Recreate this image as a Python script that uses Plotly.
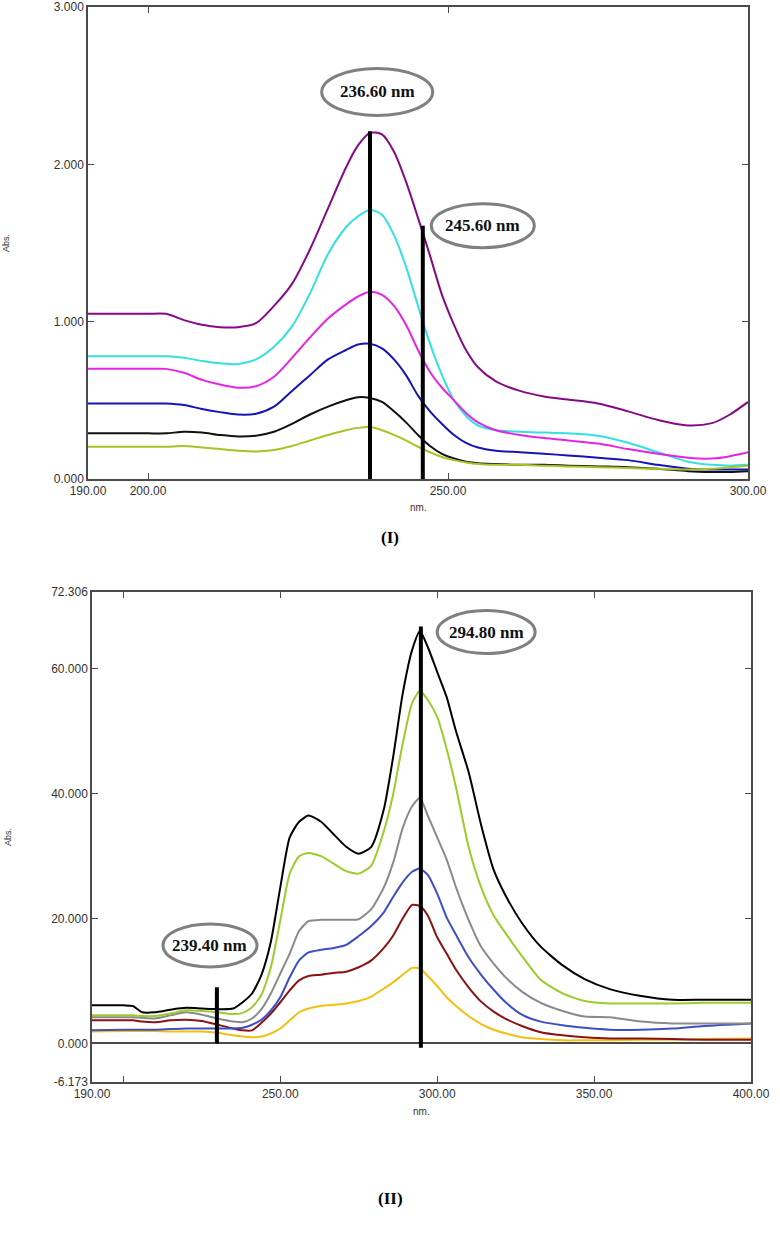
import plotly.graph_objects as go

# ---------------- Panel (I) data ----------------
wl_I = [190, 195, 200, 203, 206, 209, 212, 215, 218, 221, 224, 227, 230, 233, 235, 237,
        239, 241, 243, 245, 247, 249, 251, 253, 255, 258, 262, 266, 270, 275, 280, 285,
        290, 294, 297, 300]
purple_I = [1.05, 1.05, 1.05, 1.05, 1.01, 0.98, 0.965, 0.965, 0.99, 1.10, 1.24, 1.46, 1.72, 1.98, 2.12, 2.20,
            2.19, 2.08, 1.89, 1.66, 1.42, 1.17, 0.98, 0.82, 0.71, 0.62, 0.56, 0.525, 0.505, 0.48, 0.43, 0.375,
            0.34, 0.355, 0.41, 0.49]
cyan_I = [0.78, 0.78, 0.78, 0.78, 0.77, 0.75, 0.735, 0.73, 0.76, 0.84, 0.97, 1.18, 1.43, 1.60, 1.67, 1.71,
          1.68, 1.55, 1.35, 1.10, 0.86, 0.66, 0.50, 0.40, 0.34, 0.31, 0.30, 0.295, 0.29, 0.275, 0.23, 0.17,
          0.11, 0.09, 0.085, 0.09]
magenta_I = [0.70, 0.70, 0.70, 0.70, 0.675, 0.63, 0.60, 0.58, 0.59, 0.65, 0.77, 0.90, 1.02, 1.11, 1.16, 1.19,
             1.17, 1.10, 0.98, 0.82, 0.68, 0.58, 0.50, 0.42, 0.36, 0.31, 0.28, 0.26, 0.245, 0.225, 0.19, 0.16,
             0.135, 0.13, 0.145, 0.17]
blue_I = [0.48, 0.48, 0.48, 0.48, 0.47, 0.445, 0.425, 0.41, 0.415, 0.46, 0.56, 0.66, 0.76, 0.82, 0.855, 0.86,
          0.83, 0.76, 0.66, 0.53, 0.43, 0.35, 0.28, 0.23, 0.20, 0.18, 0.17, 0.16, 0.15, 0.135, 0.12, 0.09,
          0.065, 0.06, 0.06, 0.06]
black_I = [0.29, 0.29, 0.29, 0.29, 0.30, 0.295, 0.28, 0.27, 0.275, 0.30, 0.35, 0.41, 0.46, 0.50, 0.52, 0.515,
           0.49, 0.43, 0.36, 0.28, 0.21, 0.16, 0.13, 0.11, 0.10, 0.095, 0.09, 0.09, 0.085, 0.08, 0.075, 0.065,
           0.05, 0.045, 0.045, 0.05]
green_I = [0.205, 0.205, 0.205, 0.205, 0.21, 0.20, 0.19, 0.18, 0.175, 0.185, 0.21, 0.245, 0.28, 0.31, 0.325, 0.33,
           0.31, 0.28, 0.245, 0.205, 0.17, 0.14, 0.12, 0.105, 0.095, 0.09, 0.09, 0.085, 0.08, 0.075, 0.07, 0.065,
           0.06, 0.065, 0.075, 0.085]
series_I = [
    (purple_I, "#850a85"),
    (cyan_I, "#35e0e0"),
    (magenta_I, "#e524e5"),
    (blue_I, "#1414b8"),
    (black_I, "#111111"),
    (green_I, "#a6c424"),
]
peak_label_I = ["236.60 nm", "245.60 nm"]
peak_wl_I = [237.0, 245.8]
peak_top_I = [2.21, 1.61]
peak_base_I = [0.0, 0.0]
label_x_I = [238.2, 255.8]
label_y_I = [2.46, 1.61]
xt_I = [190, 200, 250, 300]
xt_text_I = ["190.00", "200.00", "250.00", "300.00"]
yt_I = [0, 1, 2, 3]
yt_text_I = ["0.000", "1.000", "2.000", "3.000"]

# ---------------- Panel (II) data ----------------
wl_II = [190, 200, 203, 206, 210, 215, 220, 225, 230, 235, 238, 241, 244, 247, 250, 253, 256, 259,
         263, 267, 271, 275, 279, 283, 286, 289, 292, 294.5, 297, 300, 303, 306, 310, 314, 318,
         322, 327, 333, 340, 347, 355, 365, 375, 385, 400]
black_II = [6.1, 6.1, 6.0, 5.0, 5.0, 5.4, 5.7, 5.6, 5.5, 5.6, 6.6, 8.0, 11.0, 16.3, 25.0, 33.0, 35.5, 36.5,
            35.5, 33.5, 31.5, 30.4, 31.5, 37.5, 46.0, 56.0, 63.0, 66.0, 63.5, 59.5, 55.5, 50.0, 43.5, 35.0, 27.8,
            23.5, 19.3, 15.5, 12.5, 10.3, 8.7, 7.6, 7.0, 7.0, 7.0]
green_II = [4.5, 4.5, 4.5, 4.4, 4.4, 4.8, 5.3, 5.2, 5.0, 4.7, 4.9, 5.8, 7.8, 12.2, 19.7, 27.2, 30.0, 30.5,
            30.0, 28.8, 27.6, 27.2, 28.5, 34.0, 40.0, 48.0, 54.5, 56.5, 55.0, 52.3, 47.2, 41.0, 31.5, 25.0, 20.5,
            17.5, 14.0, 10.2, 8.0, 6.8, 6.4, 6.4, 6.4, 6.5, 6.5]
gray_II = [4.2, 4.2, 4.2, 4.1, 4.0, 4.5, 5.0, 4.6, 4.0, 3.5, 3.4, 4.0, 5.5, 8.0, 11.2, 14.4, 18.0, 19.6,
           19.8, 19.8, 19.8, 19.9, 21.5, 25.0, 29.0, 34.5, 38.0, 39.3, 36.5, 33.0, 29.5, 25.0, 19.8, 15.5, 12.8,
           10.5, 8.3, 6.5, 5.2, 4.3, 4.2, 3.5, 3.2, 3.2, 3.2]
blue_II = [2.1, 2.2, 2.2, 2.2, 2.2, 2.3, 2.4, 2.4, 2.4, 2.4, 2.5, 3.0, 3.8, 5.3, 7.4, 10.6, 13.3, 14.6,
           15.0, 15.3, 15.8, 17.2, 18.8, 21.0, 23.5, 25.8, 27.5, 28.0, 27.0, 24.0, 20.2, 17.4, 13.8, 11.0, 8.6,
           6.5, 4.6, 3.5, 2.9, 2.5, 2.2, 2.2, 2.4, 2.8, 3.2]
darkred_II = [3.7, 3.7, 3.7, 3.5, 3.4, 3.7, 3.8, 3.6, 3.0, 2.4, 2.1, 2.1, 3.3, 4.8, 6.6, 8.5, 10.1, 10.8,
              11.0, 11.3, 11.5, 12.2, 13.3, 15.3, 17.3, 20.0, 22.2, 22.0, 20.5, 17.0, 14.4, 11.8, 9.0, 6.7, 5.1,
              3.9, 2.8, 1.8, 1.3, 1.0, 0.8, 0.8, 0.7, 0.6, 0.6]
gold_II = [1.9, 2.0, 2.0, 2.0, 2.0, 1.9, 1.9, 1.9, 1.7, 1.3, 1.1, 1.0, 1.1, 1.6, 2.4, 3.7, 5.0, 5.6,
           6.0, 6.2, 6.4, 6.8, 7.5, 8.8, 9.8, 11.0, 12.1, 12.0, 10.8, 9.2, 7.4, 6.0, 4.4, 3.1, 2.2,
           1.6, 1.0, 0.7, 0.5, 0.5, 0.5, 0.6, 0.6, 0.7, 0.8]
series_II = [
    (gold_II, "#f3c010"),
    (darkred_II, "#8b1212"),
    (blue_II, "#3d4ec6"),
    (gray_II, "#8a8a8a"),
    (green_II, "#9ccc2c"),
    (black_II, "#000000"),
]
peak_label_II = ["294.80 nm", "239.40 nm"]
peak_wl_II = [294.8, 229.8]
peak_top_II = [66.8, 9.0]
peak_base_II = [-0.7, 0.0]
label_x_II = [315.6, 227.6]
label_y_II = [65.9, 15.7]
xt_II = [190, 200, 250, 300, 350, 400]
xt_text_II = ["190.00", "", "250.00", "300.00", "350.00", "400.00"]
yt_II = [-6.173, 0, 20, 40, 60, 72.306]
yt_text_II = ["-6.173", "0.000", "20.000", "40.000", "60.000", "72.306"]

W, H = 780, 1239
AXC = "#4a4a4a"
TXT = "#333333"
SANS = "Liberation Sans, Arial, sans-serif"
SERIF = "Liberation Serif, Times New Roman, serif"

fig = go.Figure()

for ys, col in series_I:
    fig.add_trace(go.Scatter(x=wl_I, y=ys, mode="lines",
                             line=dict(color=col, width=2, shape="spline", smoothing=0.8),
                             xaxis="x", yaxis="y", showlegend=False, hoverinfo="skip"))
for wl, top, base in zip(peak_wl_I, peak_top_I, peak_base_I):
    fig.add_trace(go.Scatter(x=[wl, wl], y=[base, top], mode="lines", line=dict(color="#000", width=4),
                             xaxis="x", yaxis="y", showlegend=False, hoverinfo="skip"))

for ys, col in series_II:
    fig.add_trace(go.Scatter(x=wl_II, y=ys, mode="lines",
                             line=dict(color=col, width=2, shape="spline", smoothing=0.6),
                             xaxis="x2", yaxis="y2", showlegend=False, hoverinfo="skip"))
for wl, top, base in zip(peak_wl_II, peak_top_II, peak_base_II):
    fig.add_trace(go.Scatter(x=[wl, wl], y=[base, top], mode="lines", line=dict(color="#000", width=4),
                             xaxis="x2", yaxis="y2", showlegend=False, hoverinfo="skip"))

axis_common = dict(showline=True, linecolor=AXC, linewidth=1.5, mirror="ticks", ticks="inside",
                   ticklen=6, tickcolor=AXC, tickwidth=1.2, showgrid=False, zeroline=False,
                   automargin=False,
                   tickfont=dict(family=SANS, size=12, color=TXT), fixedrange=True)

fig.update_layout(
    width=W, height=H, margin=dict(l=0, r=0, t=0, b=0, autoexpand=False),
    paper_bgcolor="white", plot_bgcolor="white", showlegend=False,
    xaxis=dict(domain=[88 / W, 748 / W], range=[190, 300], tickmode="array",
               tickvals=xt_I, ticktext=xt_text_I, anchor="y", **axis_common),
    yaxis=dict(domain=[1 - 479 / H, 1 - 7 / H], range=[0, 3], tickmode="array",
               tickvals=yt_I, ticktext=yt_text_I, anchor="x", **axis_common),
    xaxis2=dict(domain=[92 / W, 751 / W], range=[190, 400], tickmode="array",
                tickvals=xt_II, ticktext=xt_text_II, anchor="y2", **axis_common),
    yaxis2=dict(domain=[1 - 1082 / H, 1 - 592 / H], range=[-6.173, 72.306], tickmode="array",
                tickvals=yt_II, ticktext=yt_text_II, anchor="x2", **axis_common),
)
fig.update_layout(yaxis2=dict(zeroline=True, zerolinecolor=AXC, zerolinewidth=1.5))

shapes = []
annotations = []
ell_w_I = [111, 103]
ell_h_I = [47, 44]
for txt, cx, cy, w, h in zip(peak_label_I, label_x_I, label_y_I, ell_w_I, ell_h_I):
    shapes.append(dict(type="circle", xref="x", yref="y", xsizemode="pixel", ysizemode="pixel",
                       xanchor=cx, yanchor=cy, x0=-w / 2, x1=w / 2, y0=-h / 2, y1=h / 2,
                       line=dict(color="#808080", width=3), fillcolor="rgba(0,0,0,0)"))
    annotations.append(dict(x=cx, y=cy, xref="x", yref="y", text="<b>" + txt + "</b>", showarrow=False,
                            font=dict(family=SERIF, size=17, color="#111")))
ell_w_II = [98, 94]
ell_h_II = [43, 43]
for txt, cx, cy, w, h in zip(peak_label_II, label_x_II, label_y_II, ell_w_II, ell_h_II):
    shapes.append(dict(type="circle", xref="x2", yref="y2", xsizemode="pixel", ysizemode="pixel",
                       xanchor=cx, yanchor=cy, x0=-w / 2, x1=w / 2, y0=-h / 2, y1=h / 2,
                       line=dict(color="#808080", width=3), fillcolor="rgba(0,0,0,0)"))
    annotations.append(dict(x=cx, y=cy, xref="x2", yref="y2", text="<b>" + txt + "</b>", showarrow=False,
                            font=dict(family=SERIF, size=17, color="#111")))

def paper_txt(text, px, py, size, angle=0, family=SANS, color=TXT):
    return dict(x=px / W, y=1 - py / H, xref="paper", yref="paper", text=text, showarrow=False,
                textangle=angle, font=dict(family=family, size=size, color=color),
                xanchor="center", yanchor="middle")

annotations += [
    paper_txt("Abs.", 6, 243, 9, angle=-90),
    paper_txt("nm.", 418, 507, 10),
    paper_txt("<b>(I)</b>", 390, 537, 17, family=SERIF, color="#000"),
    paper_txt("Abs.", 8, 837, 9, angle=-90),
    paper_txt("nm.", 421, 1111, 10),
    paper_txt("<b>(II)</b>", 390, 1198, 17, family=SERIF, color="#000"),
]
fig.update_layout(shapes=shapes, annotations=annotations)

fig.write_html("out.html")
